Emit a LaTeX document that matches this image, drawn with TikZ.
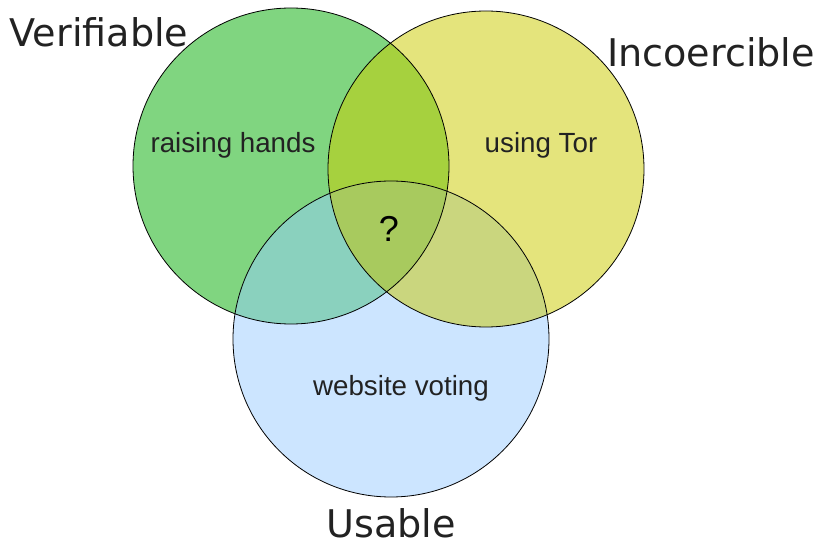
\documentclass[tikz,border=0pt]{standalone}
\usepackage{fontspec}
\usepackage{tikz}
\usetikzlibrary{positioning}
\newfontfamily\setfont{DejaVu Sans}
\newfontfamily\itemfont{Liberation Sans}
\definecolor{vergreen}{HTML}{80D580}
\definecolor{incyellow}{HTML}{E4E47C}
\definecolor{useblue}{HTML}{CCE5FF}
\definecolor{vgiy}{HTML}{A6D13E}
\definecolor{vgub}{HTML}{8AD1BE}
\definecolor{iyub}{HTML}{CAD67E}
\definecolor{allthree}{HTML}{A8CA5E}
\definecolor{ink}{HTML}{222222}

\begin{document}
\begin{tikzpicture}[
    x=0.75pt, y=-0.75pt,
    setlbl/.style  = {font=\fontsize{28.6}{32}\selectfont\setfont\color{ink}, inner sep=0pt},
    itemlbl/.style = {font=\fontsize{20.8}{24}\selectfont\itemfont\color{ink}, inner sep=0pt},
    rim/.style     = {draw=black, line width=0.6pt},
  ]
    \def\rad{118.5pt}  % circle radius
    \useasboundingbox (0,0) rectangle (819,545);

    \coordinate (ver) at (291,166);
    \coordinate (inc) at (486,169);
    \coordinate (use) at (391,339);

    % ── single sets ──
    \fill[vergreen]  (ver) circle (\rad);
    \fill[incyellow] (inc) circle (\rad);
    \fill[useblue]   (use) circle (\rad);

    % ── pairwise overlaps ──
    \begin{scope}
      \clip (ver) circle (\rad);
      \fill[vgiy] (inc) circle (\rad);
      \fill[vgub] (use) circle (\rad);
    \end{scope}
    \begin{scope}
      \clip (inc) circle (\rad);
      \fill[iyub] (use) circle (\rad);
    \end{scope}

    % ── all three ──
    \begin{scope}
      \clip (ver) circle (\rad);
      \clip (inc) circle (\rad);
      \fill[allthree] (use) circle (\rad);
    \end{scope}

    \draw[rim] (ver) circle (\rad);
    \draw[rim] (inc) circle (\rad);
    \draw[rim] (use) circle (\rad);

    % ── labels ──
    \node[setlbl]  (verlbl) at (99,32)   {Verifiable};
    \node[setlbl]  (inclbl) at (711,52)  {Incoercible};
    \node[setlbl]  (uselbl) at (391,523) {Usable};

    \node[itemlbl] (hands)  at (233,145) {raising hands};
    \node[itemlbl] (tor)    at (541,145) {using Tor};
    \node[itemlbl] (web)    at (401,388) {website voting};
    \node[itemlbl, font=\fontsize{27}{30}\selectfont\itemfont] (unk) at (389,229) {?};
\end{tikzpicture}
\end{document}
